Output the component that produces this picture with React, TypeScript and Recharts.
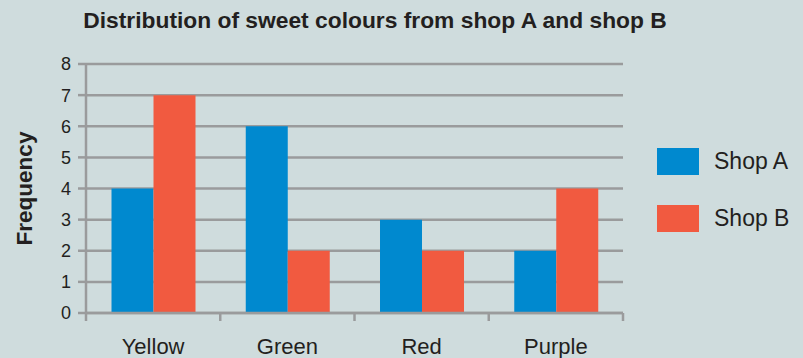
import React from 'react';
import { BarChart, Bar, XAxis, YAxis, CartesianGrid } from 'recharts';

const colours = ['Yellow', 'Green', 'Red', 'Purple'];
const shopA = [4, 6, 3, 2];
const shopB = [7, 2, 2, 4];
const yTicks = [0, 1, 2, 3, 4, 5, 6, 7, 8];
const series = [
  { key: 'a', name: 'Shop A', color: '#0089cf' },
  { key: 'b', name: 'Shop B', color: '#f15a40' },
];

const data = colours.map((c, i) => ({ colour: c, a: shopA[i], b: shopB[i] }));

const W = 803;
const H = 358;
const X_H = 30;
const M = { top: 64, right: 180, bottom: 45 - X_H, left: 0 };
const Y_W = 86;
const band = (W - M.left - M.right - Y_W) / colours.length;
const GRID = '#9a9b9c';
const INK = '#231f20';
const FONT = '"Liberation Sans", Arial, Helvetica, sans-serif';

const CatTick = (props: any) => {
  const { x, y, payload, index } = props;
  const last = index === colours.length - 1;
  return (
    <g>
      <line x1={x - band / 2} x2={x - band / 2} y1={y} y2={y + 8} stroke={GRID} strokeWidth={2.5} />
      {last && <line x1={x + band / 2} x2={x + band / 2} y1={y} y2={y + 8} stroke={GRID} strokeWidth={2.5} />}
      <text x={x} y={y + 41} textAnchor="middle" fontSize={22} fill={INK} fontFamily={FONT}>
        {payload.value}
      </text>
    </g>
  );
};

const LegendBox = () => (
  <div style={{ position: 'absolute', left: 657, top: 148, fontFamily: FONT, fontSize: 23, color: INK }}>
    {series.map((s) => (
      <div key={s.name} style={{ display: 'flex', alignItems: 'center', height: 27, marginBottom: 30 }}>
        <div style={{ width: 42, height: 27, background: s.color, marginRight: 15 }} />
        <span>{s.name}</span>
      </div>
    ))}
  </div>
);

export default function App() {
  return (
    <div style={{ position: 'absolute', left: 0, top: 0, width: W, height: H, background: '#cfdcdd' }}>
      <BarChart width={W} height={H} data={data} margin={M} barCategoryGap="19%" barGap={0}>
        <text x={375} y={28} textAnchor="middle" fontSize={22.8} fontWeight="bold" fill={INK} fontFamily={FONT}>
          Distribution of sweet colours from shop A and shop B
        </text>
        <CartesianGrid vertical={false} stroke={GRID} strokeWidth={2.5} />
        <XAxis
          dataKey="colour"
          height={X_H}
          tickLine={false}
          tickSize={0}
          tickMargin={0}
          axisLine={{ stroke: GRID, strokeWidth: 2.5 }}
          tick={<CatTick />}
          interval={0}
        />
        <YAxis
          width={Y_W}
          domain={[0, 8]}
          ticks={yTicks}
          interval={0}
          tickSize={8}
          tickMargin={7}
          tickLine={{ stroke: GRID, strokeWidth: 2.5 }}
          axisLine={{ stroke: GRID, strokeWidth: 2.5 }}
          tick={{ fontSize: 18, fill: INK, fontFamily: FONT }}
          label={({ viewBox }: any) => {
            const lx = viewBox.x + 24;
            const ly = viewBox.y + viewBox.height / 2;
            return (
              <text
                x={lx}
                y={ly}
                transform={`rotate(-90, ${lx}, ${ly})`}
                textAnchor="middle"
                dominantBaseline="central"
                fontSize={22.5}
                fontWeight="bold"
                fill={INK}
                fontFamily={FONT}
              >
                Frequency
              </text>
            );
          }}
        />
        {series.map((s) => (
          <Bar key={s.key} dataKey={s.key} name={s.name} fill={s.color} isAnimationActive={false} />
        ))}
      </BarChart>
      <LegendBox />
    </div>
  );
}
